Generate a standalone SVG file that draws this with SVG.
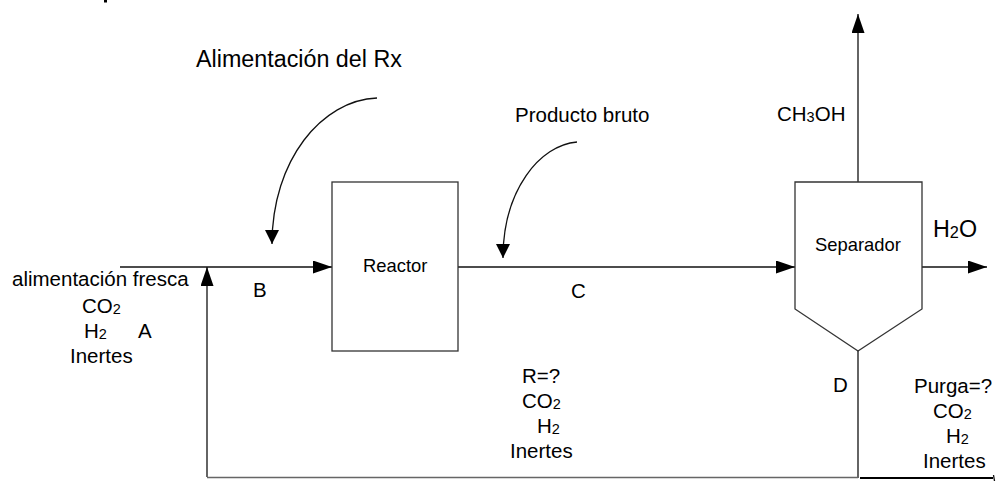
<svg xmlns="http://www.w3.org/2000/svg" width="996" height="481" viewBox="0 0 996 481">
<defs>
<style>
text{font-family:"Liberation Sans",Arial,sans-serif;fill:#000}
.lbl{font-size:20.5px}
.big{font-size:23.3px}
.box{font-size:18.4px}
.sub{font-size:14.5px}
.subb{font-size:16.3px}
.node{fill:#fff;stroke:#333;stroke-width:1.3}
.ln{fill:none;stroke:#111;stroke-width:1.3}
.rec{fill:none;stroke:#666;stroke-width:1.6}
.dark{fill:none;stroke:#000;stroke-width:2}
</style>
<marker id="ah" markerUnits="userSpaceOnUse" markerWidth="19" markerHeight="13" refX="19" refY="6.5" orient="auto">
<path d="M0,0 L19,6.5 L0,13 z" fill="#000"/>
</marker>
<marker id="ahc" markerUnits="userSpaceOnUse" markerWidth="14" markerHeight="14" refX="14" refY="7" orient="auto">
<path d="M0,0 L14,7 L0,14 z" fill="#000"/>
</marker>
</defs>
<rect width="996" height="481" fill="#fff"/>
<rect x="104" y="0" width="3" height="2.5" fill="#000"/>

<g id="connectors">
<path class="ln" d="M120,267 H332" marker-end="url(#ah)"/>
<path class="ln" d="M207,477 V267" marker-end="url(#ah)"/>
<path class="ln" d="M458,267 H795" marker-end="url(#ah)"/>
<path class="ln" d="M858,182 V14" marker-end="url(#ah)"/>
<path class="ln" d="M922,267 H987" marker-end="url(#ah)"/>
<path class="ln" d="M858,351 V478"/>
<path class="rec" d="M207,477.5 H858"/>
<path class="dark" d="M860,478 H993"/>
<path class="ln" d="M993.5,475 L994.5,481"/>
<path class="ln" d="M377,98 C322,100 272,160 272,244" marker-end="url(#ahc)"/>
<path class="ln" d="M577,142 C540,145 503,190 503,258" marker-end="url(#ahc)"/>
</g>

<g id="reactor">
<rect class="node" x="332" y="182" width="126" height="169"/>
<text class="box" x="363" y="272">Reactor</text>
</g>

<g id="separador">
<path class="node" d="M795,182 H922 V309 L858,351 L795,309 Z"/>
<text class="box" x="815" y="251">Separador</text>
</g>

<g id="labels">
<text class="big" x="196" y="67">Alimentación del Rx</text>
<text class="lbl" x="515" y="122">Producto bruto</text>
<text class="lbl" x="777" y="121">CH<tspan class="sub" dy="1">3</tspan><tspan dy="-1">OH</tspan></text>
<text class="big" x="933" y="237">H<tspan class="subb" dy="1">2</tspan><tspan dy="-1">O</tspan></text>

<text class="lbl" x="12" y="286">alimentación fresca</text>
<text class="lbl" x="82" y="313">CO<tspan class="sub" dy="1">2</tspan></text>
<text class="lbl" x="84" y="338">H<tspan class="sub" dy="1">2</tspan></text>
<text class="lbl" x="138" y="338">A</text>
<text class="lbl" x="70" y="363">Inertes</text>

<text class="lbl" x="253" y="297">B</text>
<text class="lbl" x="571" y="298">C</text>
<text class="lbl" x="833" y="392">D</text>

<text class="lbl" x="522" y="383">R=?</text>
<text class="lbl" x="522" y="408">CO<tspan class="sub" dy="1">2</tspan></text>
<text class="lbl" x="537" y="433">H<tspan class="sub" dy="1">2</tspan></text>
<text class="lbl" x="510" y="458">Inertes</text>

<text class="lbl" x="914" y="393">Purga=?</text>
<text class="lbl" x="933" y="418">CO<tspan class="sub" dy="1">2</tspan></text>
<text class="lbl" x="946" y="443">H<tspan class="sub" dy="1">2</tspan></text>
<text class="lbl" x="923" y="468">Inertes</text>
</g>
</svg>
